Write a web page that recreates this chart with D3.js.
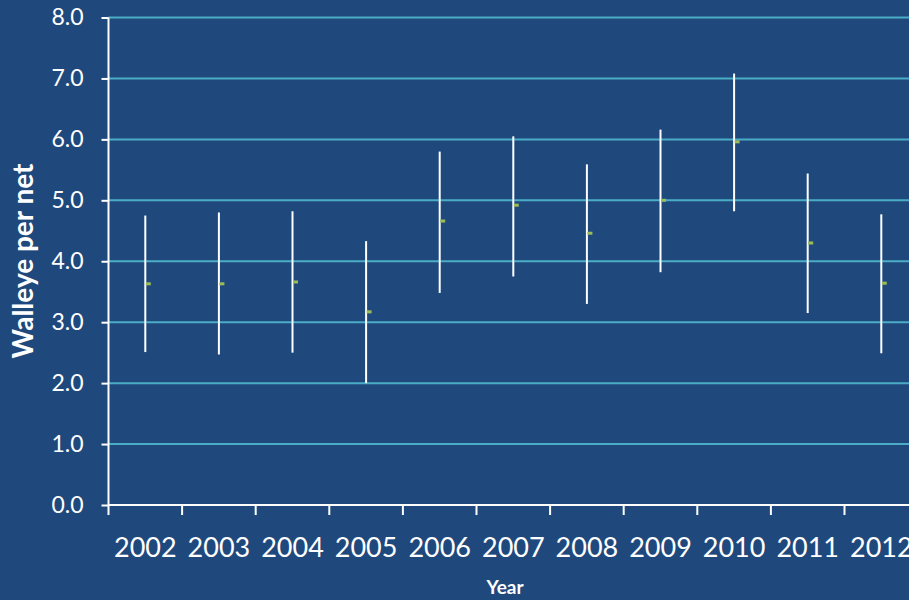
<!DOCTYPE html>
<html>
<head>
<meta charset="utf-8">
<script src="https://cdn.jsdelivr.net/npm/d3@7"></script>
<style>
  html, body { margin: 0; padding: 0; background: #1F497D; overflow: hidden; }
  svg { display: block; }
  .axis text { fill: #fff; font-family: Lato, "Open Sans", sans-serif; }
  .axis path, .axis line { stroke: #fff; stroke-width: 2; }
</style>
</head>
<body>
<div id="chart"></div>
<script>
// Walleye per net by year: mean with lower / upper bounds
const years = ['2002', '2003', '2004', '2005', '2006', '2007', '2008', '2009', '2010', '2011', '2012'];
const means = [3.63, 3.63, 3.66, 3.17, 4.66, 4.92, 4.46, 5.00, 5.96, 4.30, 3.64];
const lower = [2.51, 2.47, 2.50, 2.00, 3.48, 3.75, 3.30, 3.82, 4.82, 3.15, 2.49];
const upper = [4.75, 4.80, 4.82, 4.33, 5.80, 6.05, 5.59, 6.16, 7.08, 5.44, 4.77];
const yTicks = [0, 1, 2, 3, 4, 5, 6, 7, 8];

const width = 909, height = 600;
const margin = {left: 108.5, bottom: 505, top: 17.5};
const band = 73.6;

const rows = years.map((yr, i) => ({year: yr, mean: means[i], lo: lower[i], hi: upper[i]}));

const svg = d3.select('#chart').append('svg')
  .attr('width', width)
  .attr('height', height);

const x = d3.scaleBand()
  .domain(years)
  .range([margin.left, margin.left + band * years.length])
  .padding(0);

const y = d3.scaleLinear()
  .domain([0, 8])
  .range([margin.bottom, margin.top]);

// gridlines
svg.append('g')
  .selectAll('line')
  .data(yTicks.filter(d => d > 0))
  .enter()
  .append('line')
  .attr('x1', margin.left)
  .attr('x2', width)
  .attr('y1', d => y(d))
  .attr('y2', d => y(d))
  .style('stroke', '#4BACC6')
  .style('stroke-width', 2);

// y axis
const yAxis = svg.append('g')
  .attr('class', 'axis')
  .attr('transform', 'translate(' + margin.left + ',0)')
  .call(d3.axisLeft(y).tickValues(yTicks).tickFormat(d3.format('.1f')).tickSize(7).tickSizeOuter(0).tickPadding(18));
yAxis.select('.domain').attr('d', 'M0,' + margin.top + 'V' + (margin.bottom + 10));
yAxis.selectAll('text').style('font-size', '23px');

// x axis: labels at centres, ticks on category boundaries
const xAxis = svg.append('g')
  .attr('class', 'axis')
  .attr('transform', 'translate(0,' + margin.bottom + ')')
  .call(d3.axisBottom(x).tickSize(0).tickPadding(33));
xAxis.select('.domain').attr('d', 'M' + margin.left + ',0H' + width);
xAxis.selectAll('text').style('font-size', '27px');
xAxis.append('g')
  .selectAll('line')
  .data(years.slice(1))
  .enter()
  .append('line')
  .attr('x1', d => x(d))
  .attr('x2', d => x(d))
  .attr('y1', 0)
  .attr('y2', 10);

// error bars
svg.append('g')
  .selectAll('line')
  .data(rows)
  .enter()
  .append('line')
  .attr('x1', d => x(d.year) + x.bandwidth() / 2)
  .attr('x2', d => x(d.year) + x.bandwidth() / 2)
  .attr('y1', d => y(d.hi))
  .attr('y2', d => y(d.lo))
  .style('stroke', '#fff')
  .style('stroke-width', 2);

// mean markers
svg.append('g')
  .selectAll('rect')
  .data(rows)
  .enter()
  .append('rect')
  .attr('x', d => x(d.year) + x.bandwidth() / 2 + 0.5)
  .attr('y', d => y(d.mean) - 1.5)
  .attr('width', 5)
  .attr('height', 3)
  .style('fill', '#9BBB59');

// axis titles
svg.append('text')
  .attr('transform', 'translate(33,261) rotate(-90)')
  .style('text-anchor', 'middle')
  .style('fill', '#fff')
  .style('font-family', 'Lato, "Open Sans", sans-serif')
  .style('font-weight', 'bold')
  .style('font-size', '28px')
  .text('Walleye per net');

svg.append('text')
  .attr('x', 505)
  .attr('y', 594)
  .style('text-anchor', 'middle')
  .style('fill', '#fff')
  .style('font-family', 'Lato, "Open Sans", sans-serif')
  .style('font-weight', 'bold')
  .style('font-size', '19px')
  .text('Year');
</script>
</body>
</html>
